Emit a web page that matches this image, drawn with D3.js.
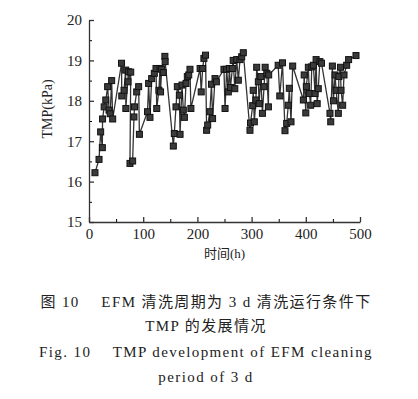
<!DOCTYPE html>
<html>
<head>
<meta charset="utf-8">
<script src="https://cdn.jsdelivr.net/npm/d3@7"></script>
<style>
  body { margin: 0; background: #fff; }
  svg text { fill: #222; }
</style>
</head>
<body>
<svg id="tmp-graph" width="418" height="399"></svg>
<script>
// time (h) and TMP (kPa)
var hours = [11, 18.5, 21.5, 24.6, 25, 28, 31, 34.4, 37, 39, 41.8, 43.7,
  60, 60.5, 64.6, 67.7, 68, 72.6, 72, 77, 75.6, 80.5, 83, 84, 88, 91.6, 93,
  108, 110, 112.5, 115.6, 120.5, 123.6, 125, 129, 131, 132, 134, 137, 140, 140.5,
  155.6, 157.4, 160.5, 163, 166.7, 168, 171.6, 174, 176, 179, 181.4, 184, 186.3, 188,
  205, 207, 209.7, 212, 215, 217, 219, 223, 226, 228, 232.5, 235,
  249, 251, 254, 257, 259, 261, 264.5, 266, 269, 272.5, 275.5, 278.6, 281.7, 284.7,
  297, 298, 302, 303, 305, 308, 309.4, 312.4, 314, 317, 320, 323, 325, 328, 331, 331.5,
  349, 352, 357, 361.6, 364.7, 367.7, 369.6, 372.7, 375.8,
  395.5, 397, 400, 401, 404.7, 406.5, 409, 411, 414, 417, 419, 421, 423, 426, 429,
  444.6, 446, 449, 451, 454, 456, 460, 461, 464, 465, 468, 470.5, 475.4, 479, 492.6];
var tmp = [16.22, 16.55, 17.23, 16.84, 17.55, 17.85, 18.02, 18.35, 17.77, 17.68, 18.5, 17.55,
  18.93, 18.12, 18.26, 18.76, 17.81, 18.72, 18.47, 18.71, 16.45, 16.51, 17.6, 17.85, 18.22, 18.35, 17.17,
  17.73, 18.43, 17.59, 18.55, 18.68, 18.8, 17.81, 18.26, 18.8, 18.22, 18.78, 18.7, 19.1, 18.97,
  16.88, 17.19, 17.85, 18.35, 18.14, 17.17, 18.39, 17.77, 17.59, 18.43, 18.6, 18.64, 18.78, 17.81,
  18.8, 18.22, 18.8, 19.05, 19.13, 17.27, 17.4, 17.73, 18.41, 17.56, 18.55, 18.47,
  18.78, 17.81, 18.78, 18.22, 18.8, 18.33, 18.8, 19.0, 18.3, 19.02, 18.51, 19.02, 19.09, 19.19,
  17.27, 17.45, 17.88, 18.26, 17.48, 18.02, 18.83, 18.47, 17.93, 18.6, 17.69, 18.35, 18.83, 18.68, 17.85, 18.64,
  18.88, 18.12, 18.94, 17.26, 17.44, 17.89, 18.31, 17.48, 18.86,
  18.02, 18.64, 17.7, 18.35, 18.83, 18.18, 17.89, 18.84, 18.88, 18.18, 19.02, 17.93, 18.3, 18.97, 18.93,
  17.69, 17.48, 18.86, 18.0, 18.64, 18.26, 17.69, 18.6, 18.83, 18.26, 17.89, 18.64, 18.88, 19.02, 19.12];
var xTicks = [0, 100, 200, 300, 400, 500];
var yTicks = [15, 16, 17, 18, 19, 20];
var captionLines = [
  "图 10\u2003 EFM 清洗周期为 3 d 清洗运行条件下",
  "TMP 的发展情况",
  "Fig. 10\u2003 TMP development of EFM cleaning",
  "period of 3 d"
];

var data = hours.map(function(h, i) { return {h: h, v: tmp[i]}; });

var svg = d3.select("#tmp-graph"),
    margin = {top: 20, right: 58, bottom: 177, left: 89},
    width = +svg.attr("width") - margin.left - margin.right,
    height = +svg.attr("height") - margin.top - margin.bottom,
    g = svg.append("g").attr("transform", "translate(" + margin.left + "," + margin.top + ")");

var x = d3.scaleLinear().domain([0, 500]).range([0, width]);
var y = d3.scaleLinear().domain([15, 20]).range([height, 0]);

var serif = "'Liberation Serif', 'DejaVu Serif', serif";
var mixed = "'Liberation Serif', 'Noto Sans CJK SC', serif";

// minor ticks first, then the main axes on top
g.append("g")
    .attr("transform", "translate(0," + height + ")")
    .call(d3.axisBottom(x).tickValues(d3.range(50, 500, 100)).tickSize(-3).tickFormat(""))
    .call(function(a) { a.select(".domain").remove(); });
g.append("g")
    .call(d3.axisLeft(y).tickValues(d3.range(15.5, 20, 1)).tickSize(-3).tickFormat(""))
    .call(function(a) { a.select(".domain").remove(); });

var xAxis = g.append("g")
    .attr("transform", "translate(0," + height + ")")
    .call(d3.axisBottom(x).tickValues(xTicks).tickSize(-5).tickSizeOuter(0).tickPadding(8));
var yAxis = g.append("g")
    .call(d3.axisLeft(y).tickValues(yTicks).tickFormat(d3.format("d")).tickSize(-5).tickSizeOuter(0).tickPadding(7));

[xAxis, yAxis].forEach(function(a) {
  a.attr("font-family", serif).attr("font-size", 15);
  a.selectAll("text").attr("fill", "#333");
  a.selectAll("line, path").attr("stroke", "#333").attr("stroke-width", 1.3);
});
xAxis.selectAll("text").attr("dy", "0.6em");

var line = d3.line()
    .x(function(d) { return x(d.h); })
    .y(function(d) { return y(d.v); });

g.append("path")
    .datum(data)
    .attr("fill", "none")
    .attr("stroke", "#333")
    .attr("stroke-width", 1.3)
    .attr("d", line);

g.selectAll("rect.pt")
    .data(data)
    .enter().append("rect")
    .attr("class", "pt")
    .attr("x", function(d) { return x(d.h) - 3; })
    .attr("y", function(d) { return y(d.v) - 3; })
    .attr("width", 6)
    .attr("height", 6)
    .attr("fill", "#3a3a3a")
    .attr("stroke", "#111")
    .attr("stroke-width", 1);

g.append("text")
    .attr("x", width / 2)
    .attr("y", height + 36)
    .attr("text-anchor", "middle")
    .attr("font-family", mixed)
    .attr("font-size", 13)
    .text("时间(h)");

g.append("text")
    .attr("transform", "translate(-37," + y(17.8) + ") rotate(-90)")
    .attr("text-anchor", "middle")
    .attr("font-family", serif)
    .attr("font-size", 14)
    .text("TMP(kPa)");

svg.selectAll("text.caption")
    .data(captionLines)
    .enter().append("text")
    .attr("class", "caption")
    .attr("x", 206)
    .attr("y", function(d, i) { return [307, 331, 357, 382][i]; })
    .attr("text-anchor", "middle")
    .attr("font-family", mixed)
    .attr("font-size", 15)
    .attr("letter-spacing", 1.4)
    .attr("fill", "#333")
    .text(function(d) { return d; });
</script>
</body>
</html>
